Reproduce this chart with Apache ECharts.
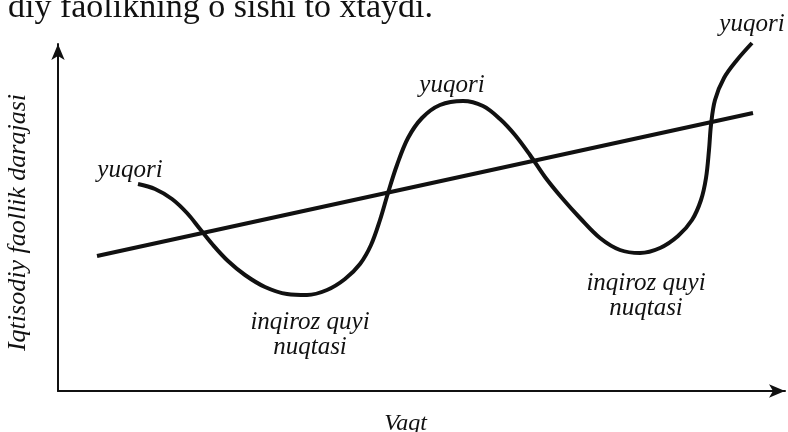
<!DOCTYPE html>
<html>
<head>
<meta charset="utf-8">
<script src="https://cdn.jsdelivr.net/npm/echarts@6/dist/echarts.min.js"></script>
<style>
  html, body { margin: 0; padding: 0; background: #fff; }
  #chart { width: 788px; height: 432px; }
</style>
</head>
<body>
<div id="chart"></div>
<script>
// Business cycle: activity level over time, with the long-run growth trend.
const cycleTime  = [80, 97, 114, 129, 142, 155, 170, 187, 207, 229, 249, 269, 287, 302, 313, 322, 330, 339, 350, 364,
                    382, 405, 425, 442, 457, 472, 487, 504, 522, 542, 562, 582, 602, 620, 634, 643, 648, 651, 653, 657,
                    666, 679, 694];
const cycleLevel = [207, 202, 192, 178, 162, 146, 130, 116, 104, 97, 96, 101, 112, 127, 146, 171, 198, 226, 253, 273,
                    286, 290, 285, 272, 256, 236, 214, 193, 173, 153, 141, 138, 143, 155, 171, 191, 213, 241, 266, 291,
                    313, 331, 348];
const trendTime  = [39, 695];
const trendLevel = [135, 278];

// Turning points on the cycle and their captions
const peakText   = 'yuqori';
const troughText = 'inqiroz quyi\nnuqtasi';
const turningPoints = [
  { index: 0,  text: peakText },
  { index: 21, text: peakText },
  { index: 42, text: peakText },
  { index: 10, text: troughText },
  { index: 31, text: troughText }
];

const headingText = 'diy faolikning o sishi to xtaydi.';
const yAxisTitle  = 'Iqtisodiy faollik darajasi';
const xAxisTitle  = 'Vaqt';

const ink = '#111';
const captionFont = { fontFamily: 'Liberation Serif', fontStyle: 'italic', fontSize: 25, color: ink, lineHeight: 25 };

// per-point caption placement (padding nudges the centred caption sideways)
const captionStyle = {
  0:  { position: 'top',    distance: 1,  padding: [0, 16, 0, 0] },
  21: { position: 'top',    distance: 3,  padding: [0, 22, 0, 0] },
  42: { position: 'top',    distance: 6,  padding: [0, 0, 0, 0] },
  10: { position: 'bottom', distance: 14, padding: [0, 0, 0, 6] },
  31: { position: 'bottom', distance: 17, padding: [0, 0, 0, 12] }
};

const cycleData = cycleTime.map((t, i) => ({ value: [t, cycleLevel[i]] }));
turningPoints.forEach(p => {
  const s = captionStyle[p.index];
  cycleData[p.index].label = Object.assign({
    show: true,
    formatter: p.text,
    align: 'center'
  }, captionFont, s);
});

const chart = echarts.init(document.getElementById('chart'), null, { renderer: 'canvas' });
chart.setOption({
  animation: false,
  backgroundColor: '#fff',
  grid: { left: 58, right: 3, top: 44, bottom: 41, containLabel: false, outerBoundsMode: 'none' },
  xAxis: {
    type: 'value', min: 0, max: 727,
    name: xAxisTitle, nameLocation: 'middle', nameGap: 20,
    nameTextStyle: Object.assign({}, captionFont, { fontSize: 24, padding: [0, 32, 0, 0] }),
    axisLine: { show: true, symbol: ['none', 'arrow'], symbolSize: [10, 16], lineStyle: { color: ink, width: 2 } },
    axisTick: { show: false }, axisLabel: { show: false }, splitLine: { show: false }
  },
  yAxis: {
    type: 'value', min: 0, max: 347,
    name: yAxisTitle, nameLocation: 'middle', nameGap: 27, nameRotate: 90,
    nameTextStyle: Object.assign({}, captionFont, { fontSize: 26, padding: [0, 10, 0, 0] }),
    axisLine: { show: true, symbol: ['none', 'arrow'], symbolSize: [10, 16], lineStyle: { color: ink, width: 2 } },
    axisTick: { show: false }, axisLabel: { show: false }, splitLine: { show: false }
  },
  graphic: [{
    type: 'text', left: 8, top: -9,
    style: { text: headingText, font: '34px "Liberation Serif"', fill: ink }
  }],
  series: [
    {
      type: 'line',
      data: trendTime.map((t, i) => [t, trendLevel[i]]),
      showSymbol: false, symbol: 'none', clip: false,
      lineStyle: { color: ink, width: 4 }
    },
    {
      type: 'line',
      data: cycleData,
      smooth: 0.35, symbol: 'circle', symbolSize: 1, showSymbol: true, showAllSymbol: true, clip: false,
      itemStyle: { color: 'rgba(0,0,0,0)' },
      lineStyle: { color: ink, width: 4 },
      labelLayout: { hideOverlap: false }
    }
  ]
});
</script>
</body>
</html>
